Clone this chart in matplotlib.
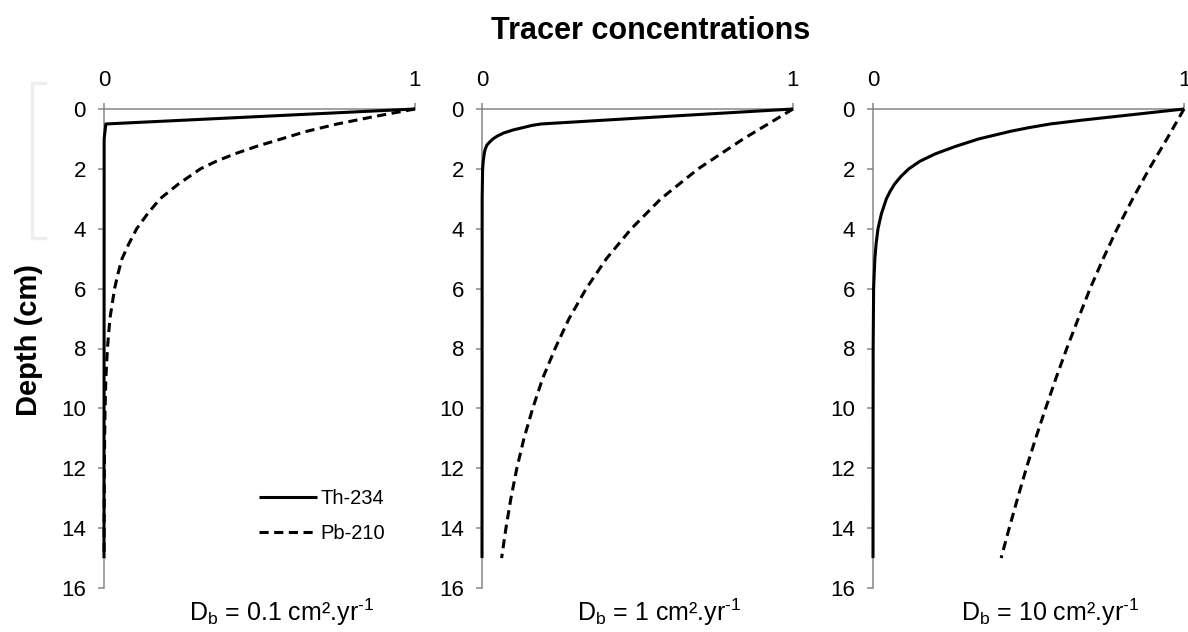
import matplotlib
matplotlib.use("Agg")
import matplotlib.pyplot as plt
from matplotlib.lines import Line2D

plt.rcParams["font.family"] = ["Liberation Sans", "DejaVu Sans"]
plt.rcParams["mathtext.fontset"] = "custom"
plt.rcParams["mathtext.rm"] = "Liberation Sans"

# ------------------------------------------------
# data (depth in cm, relative concentration)
# ------------------------------------------------
db_labels = [r"D$_\mathregular{b}$ = 0.1 cm².yr$^{\text{-1}}$",
             r"D$_\mathregular{b}$ = 1 cm².yr$^{\text{-1}}$",
             r"D$_\mathregular{b}$ = 10 cm².yr$^{\text{-1}}$"]

# Th-234
th_depth_01 = [0, 0.5, 1, 15]
th_conc_01 = [1, 0.006, 0.0005, 0.0]

th_depth_1 = [0, 0.25, 0.5, 0.55, 0.6, 0.7, 0.8, 0.9, 1.0, 1.1, 1.2, 1.35, 1.5, 1.75,
              2, 3, 15]
th_conc_1 = [1, 0.59, 0.19, 0.16, 0.14, 0.10, 0.07, 0.05, 0.035, 0.025, 0.016, 0.01,
             0.007, 0.004, 0.002, 0.0005, 0.0]

th_depth_10 = [0, 0.125, 0.25, 0.375, 0.5, 0.625, 0.75, 0.875, 1, 1.25, 1.5, 1.75, 2,
               2.25, 2.5, 2.75, 3, 3.5, 4, 4.5, 5, 6, 8, 15]
th_conc_10 = [1, 0.89, 0.78, 0.67, 0.57, 0.50, 0.44, 0.39, 0.34, 0.265, 0.20, 0.15,
              0.115, 0.09, 0.07, 0.055, 0.043, 0.027, 0.016, 0.01, 0.006, 0.002,
              0.0005, 0.0]

# Pb-210
pb_depth_01 = [0, 0.25, 0.5, 0.75, 1, 1.25, 1.5, 1.75, 2, 2.5, 3, 3.5, 4, 4.5, 5, 5.5,
               6, 7, 8, 9, 10, 11, 12, 13, 14, 15]
pb_conc_01 = [1, 0.87, 0.75, 0.65, 0.57, 0.49, 0.42, 0.36, 0.31, 0.24, 0.18, 0.14,
              0.105, 0.08, 0.058, 0.045, 0.034, 0.019, 0.011, 0.006, 0.0035, 0.002,
              0.0012, 0.0007, 0.0004, 0.0002]

pb_depth = [0, 1, 2, 3, 4, 5, 6, 7, 8, 9, 10, 11, 12, 13, 14, 15]
pb_conc_1 = [1, 0.84, 0.695, 0.575, 0.48, 0.40, 0.335, 0.28, 0.235, 0.195, 0.163,
             0.135, 0.112, 0.093, 0.077, 0.063]
pb_conc_10 = [1, 0.945, 0.888, 0.835, 0.785, 0.74, 0.698, 0.66, 0.623, 0.588, 0.555,
              0.523, 0.493, 0.465, 0.438, 0.412]

th_depths = [th_depth_01, th_depth_1, th_depth_10]
th_concs = [th_conc_01, th_conc_1, th_conc_10]
pb_depths = [pb_depth_01, pb_depth, pb_depth]
pb_concs = [pb_conc_01, pb_conc_1, pb_conc_10]

# ------------------------------------------------
# figure
# ------------------------------------------------
W, H = 1188, 632
fig = plt.figure(figsize=(W / 100, H / 100), dpi=100)

lefts = [104, 482, 873]
ax_w, ax_top, ax_bot = 311, 109, 588
spine_col = "#868686"

for i, left in enumerate(lefts):
    ax = fig.add_axes([left / W, 1 - ax_bot / H, ax_w / W, (ax_bot - ax_top) / H])
    ax.plot(th_concs[i], th_depths[i], color="black", lw=2.2, solid_capstyle="butt",
            solid_joinstyle="round", clip_on=False, zorder=3, label="Th-234")
    ax.plot(pb_concs[i], pb_depths[i], color="black", lw=2.2, dashes=(3, 1.8),
            clip_on=False, zorder=3, label="Pb-210")

    ax.set_xlim(0, 1)
    ax.set_ylim(16, 0)
    ax.set_xticks([0, 1])
    ax.set_yticks(range(0, 17, 2))
    ax.xaxis.tick_top()
    for s in ["right", "bottom"]:
        ax.spines[s].set_visible(False)
    for s in ["left", "top"]:
        ax.spines[s].set_color(spine_col)
        ax.spines[s].set_linewidth(1.1)
    ax.tick_params(axis="both", direction="out", width=1.1, color=spine_col,
                   labelsize=16)
    ax.tick_params(axis="x", length=4, pad=9)
    ax.tick_params(axis="y", length=4.5, pad=8.5)

    cx = (left + ax_w / 2 + 22) / W
    fig.text(cx, 1 - 612 / H, db_labels[i], ha="center", va="center", fontsize=18)

    if i == 0:
        ax.legend(loc="center left", bbox_to_anchor=(0.44, 0.15), frameon=False,
                  fontsize=14.5, handlelength=2.9, handletextpad=0.15,
                  labelspacing=0.8)

fig.text(651 / W, 1 - 31 / H, "Tracer concentrations", ha="center", va="center",
         fontsize=22, fontweight="bold")
fig.text(29 / W, 1 - 340 / H, "Depth (cm)", ha="center", va="center",
         fontsize=21, fontweight="bold", rotation=90)

# faint bracket at the left edge
bx = [45 / W, 32 / W, 32 / W, 45 / W]
by = [1 - 83 / H, 1 - 83 / H, 1 - 238 / H, 1 - 238 / H]
fig.add_artist(Line2D(bx, by, color="#eeeeee", lw=2.5, transform=fig.transFigure))

fig.savefig("out.png", dpi=100)
